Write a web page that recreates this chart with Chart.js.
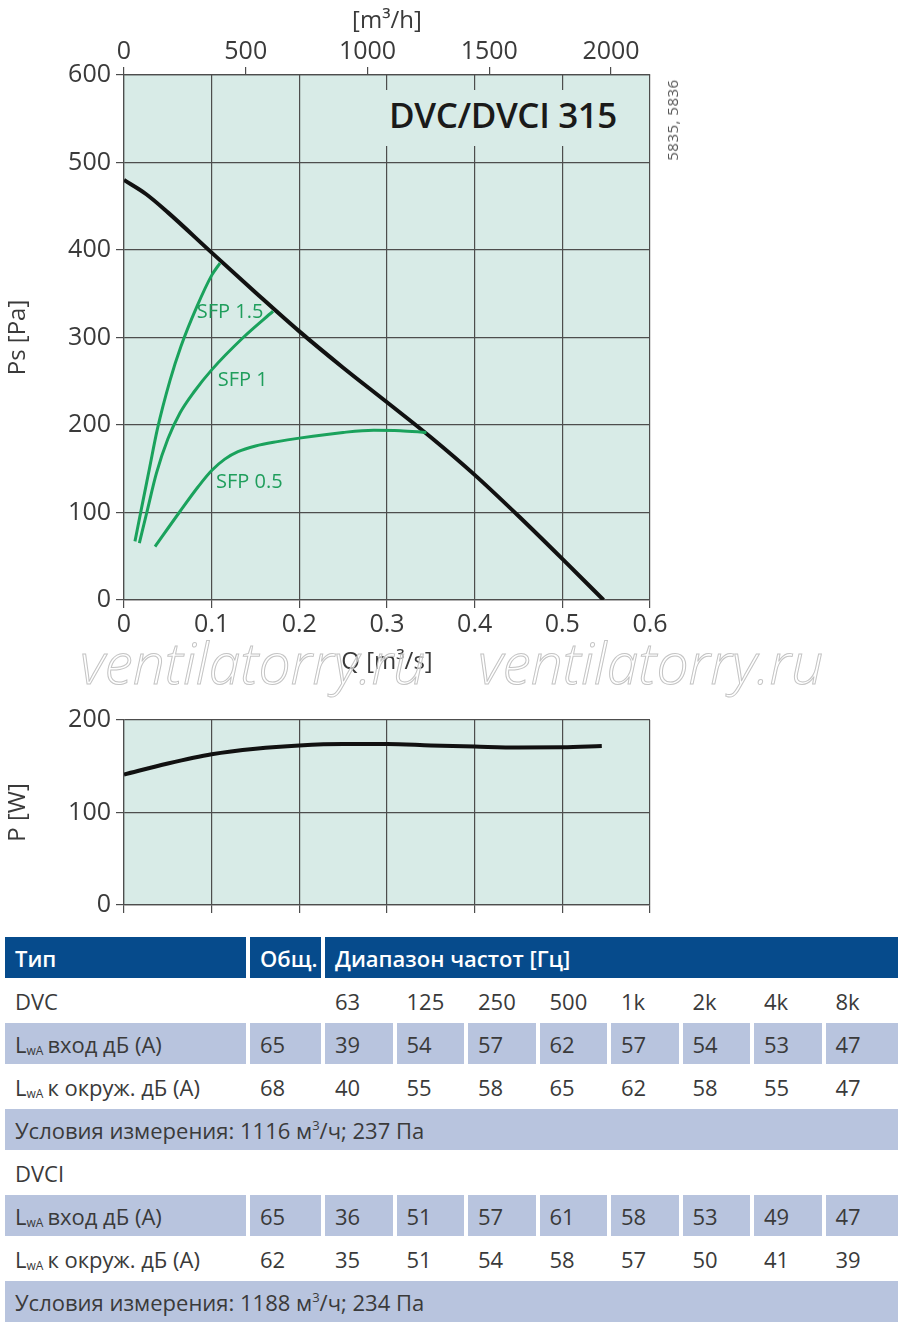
<!DOCTYPE html>
<html>
<head>
<meta charset="utf-8">
<script src="https://cdn.jsdelivr.net/npm/chart.js@4.4.1/dist/chart.umd.min.js"></script>
<style>
  body { margin: 0; background: #fff; font-family: "Open Sans", sans-serif; color: #3a3a3a; }
  #page { position: relative; width: 900px; height: 1325px; overflow: hidden; }
  .box { position: absolute; }
  #title {
    position: absolute; left: 380px; top: 90px; width: 246px; height: 56px;
    background: #d8ebe7; color: #1a1a1a; font-size: 35px; font-weight: 600;
    line-height: 50px; text-align: center; letter-spacing: -0.4px; white-space: nowrap;
  }
  #codes {
    position: absolute; left: 672px; top: 120px; font-size: 15px; color: #555;
    transform: translate(-50%, -50%) rotate(-90deg); white-space: nowrap; letter-spacing: 0.5px;
  }
  .wm {
    position: absolute; top: 623px; font-size: 57px; font-style: italic; font-weight: 300;
    color: rgba(255,255,255,0.6); -webkit-text-stroke: 1px #c4c4c4; white-space: nowrap;
  }
  #table {
    position: absolute; left: 5px; top: 937px; display: grid;
    grid-template-columns: 241px 71px repeat(7, 67.5px) 72px;
    grid-template-rows: 41px repeat(8, 41px);
    column-gap: 4px; row-gap: 2px; font-size: 22px;
  }
  #table > div { display: flex; align-items: center; padding-left: 10px; white-space: nowrap; }
  #table .hd { background: #064b8c; color: #fff; font-weight: 600; font-size: 22px; }
  #table .lv { background: #b8c4de; }
  #table sub { font-size: 12px; vertical-align: -2px; margin-right: 4px; }
  #table sup { font-size: 13px; vertical-align: 9px; }
</style>
</head>
<body>
<div id="page">
  <div class="box" style="left:0;top:0;width:700px;height:690px;"><canvas id="psChart"></canvas></div>
  <div class="box" style="left:0;top:700px;width:700px;height:230px;"><canvas id="powerChart"></canvas></div>
  <div id="title">DVC/DVCI 315</div>
  <div id="codes">5835, 5836</div>
  <div class="wm" style="left:80px;">ventilatorry.ru</div>
  <div class="wm" style="left:478px;">ventilatorry.ru</div>
  <div id="table"></div>
</div>
<script>
// fan curve, Q [m3/s] -> Ps [Pa]
const fanQ = [0, 0.025, 0.05, 0.1, 0.15, 0.2, 0.25, 0.3, 0.35, 0.4, 0.45, 0.5, 0.547];
const fanPs = [480, 464, 443, 397, 351.5, 307, 265.5, 226, 186, 143, 96, 47, 0];

// SFP lines
const sfp15Q = [0.0125, 0.02, 0.029, 0.038, 0.0525, 0.065, 0.083, 0.1, 0.1095];
const sfp15Ps = [67, 105, 150, 195, 251, 290, 335, 371, 385];
const sfp1Q = [0.0175, 0.026, 0.037, 0.05, 0.064, 0.08, 0.1, 0.136, 0.17];
const sfp1Ps = [65, 100, 145, 184, 214, 238, 263, 300, 330];
const sfp05Q = [0.0354, 0.063, 0.085, 0.1, 0.115, 0.13, 0.15, 0.175, 0.2, 0.25, 0.285, 0.315, 0.345];
const sfp05Ps = [61, 100, 130, 148, 161, 169.5, 176, 181, 185, 191.5, 194, 193.5, 191.5];

// power curve, Q [m3/s] -> P [W]
const powerQ = [0, 0.05, 0.1, 0.15, 0.2, 0.25, 0.3, 0.35, 0.4, 0.45, 0.5, 0.545];
const powerW = [141, 153, 163, 169, 172.5, 174, 174, 172.5, 171.3, 170.3, 170.5, 172];

// top axis ticks in m3/h
const flowTicksM3h = [0, 500, 1000, 1500, 2000];

// table
const freqBands = ['63', '125', '250', '500', '1k', '2k', '4k', '8k'];
const dvcInlet = [65, 39, 54, 57, 62, 57, 54, 53, 47];
const dvcSurround = [68, 40, 55, 58, 65, 62, 58, 55, 47];
const dvciInlet = [65, 36, 51, 57, 61, 58, 53, 49, 47];
const dvciSurround = [62, 35, 51, 54, 58, 57, 50, 41, 39];
const dvcCond = 'Условия измерения: 1116 м³/ч; 237 Па';
const dvciCond = 'Условия измерения: 1188 м³/ч; 234 Па';

const pts = (xs, ys) => xs.map((x, i) => ({ x, y: ys[i] }));

const gridColor = '#4d4d4d';
const tickFont = { family: 'Open Sans', size: 25 };
const plotBg = {
  id: 'plotBg',
  beforeDraw(chart) {
    const { ctx, chartArea: a } = chart;
    ctx.save();
    ctx.fillStyle = '#d8ebe7';
    ctx.fillRect(a.left, a.top, a.right - a.left, a.bottom - a.top);
    ctx.restore();
  }
};

const sfpLabels = [
  { text: 'SFP 1.5', q: 0.083, ps: 329 },
  { text: 'SFP 1', q: 0.107, ps: 251 },
  { text: 'SFP 0.5', q: 0.105, ps: 135 }
];
const sfpText = {
  id: 'sfpText',
  afterDatasetsDraw(chart) {
    const { ctx, scales } = chart;
    ctx.save();
    ctx.font = '20px "Open Sans"';
    ctx.fillStyle = '#1f9e5c';
    ctx.textBaseline = 'middle';
    sfpLabels.forEach(l => ctx.fillText(l.text, scales.x.getPixelForValue(l.q), scales.y.getPixelForValue(l.ps)));
    ctx.restore();
  }
};

const green = '#1aa25c';
const line = (data, color, width) => ({
  data, borderColor: color, borderWidth: width, pointRadius: 0,
  cubicInterpolationMode: 'monotone', fill: false
});

Chart.defaults.color = '#3a3a3a';
Chart.defaults.font.family = 'Open Sans';

new Chart('psChart', {
  type: 'line',
  data: {
    datasets: [
      line(pts(sfp15Q, sfp15Ps), green, 3),
      line(pts(sfp1Q, sfp1Ps), green, 3),
      line(pts(sfp05Q, sfp05Ps), green, 3),
      line(pts(fanQ, fanPs), '#111', 4)
    ]
  },
  options: {
    responsive: true, maintainAspectRatio: false, animation: false,
    layout: { padding: { left: 0, right: 50, top: 0, bottom: 0 } },
    plugins: { legend: { display: false }, tooltip: { enabled: false } },
    scales: {
      x: {
        type: 'linear', position: 'bottom', min: 0, max: 0.6,
        ticks: { stepSize: 0.1, font: tickFont, padding: 2, maxRotation: 0 },
        grid: { color: gridColor, lineWidth: 1.2, tickLength: 8 },
        border: { color: gridColor, width: 1.2 },
        title: { display: true, text: 'Q [m³/s]', font: { size: 24 }, padding: { top: 0, bottom: 13 } },
        afterFit(s) { s.height = 90; }
      },
      x2: {
        type: 'linear', position: 'top', min: 0, max: 2160,
        afterBuildTicks(s) { s.ticks = flowTicksM3h.map(v => ({ value: v })); },
        ticks: { font: tickFont, padding: 0, maxRotation: 0, callback: v => String(v) },
        grid: { drawOnChartArea: false, color: gridColor, lineWidth: 1.2, tickLength: 8 },
        border: { color: gridColor, width: 1.2 },
        title: { display: true, text: '[m³/h]', font: { size: 24 }, padding: { top: 7, bottom: 0 } },
        afterFit(s) { s.height = 75; }
      },
      y: {
        min: 0, max: 600,
        ticks: { stepSize: 100, font: tickFont, padding: 5 },
        grid: { color: gridColor, lineWidth: 1.2, tickLength: 8 },
        border: { color: gridColor, width: 1.2 },
        title: { display: true, text: 'Ps [Pa]', font: { size: 24 }, padding: { top: 4, bottom: 0 } },
        afterFit(s) { s.width = 124; }
      }
    }
  },
  plugins: [plotBg, sfpText]
});

new Chart('powerChart', {
  type: 'line',
  data: { datasets: [line(pts(powerQ, powerW), '#111', 4)] },
  options: {
    responsive: true, maintainAspectRatio: false, animation: false,
    layout: { padding: { left: 0, right: 50, top: 20, bottom: 0 } },
    plugins: { legend: { display: false }, tooltip: { enabled: false } },
    scales: {
      x: {
        type: 'linear', min: 0, max: 0.6,
        ticks: { stepSize: 0.1, display: false },
        grid: { color: gridColor, lineWidth: 1.2, tickLength: 8 },
        border: { color: gridColor, width: 1.2 },
        afterFit(s) { s.height = 25; }
      },
      y: {
        min: 0, max: 200,
        ticks: { stepSize: 100, font: tickFont, padding: 5 },
        grid: { color: gridColor, lineWidth: 1.2, tickLength: 8 },
        border: { color: gridColor, width: 1.2 },
        title: { display: true, text: 'P [W]', font: { size: 24 }, padding: { top: 4, bottom: 0 } },
        afterFit(s) { s.width = 124; }
      }
    }
  },
  plugins: [plotBg]
});

// table
const tbl = document.getElementById('table');
const cell = (html, cls, span) => {
  const d = document.createElement('div');
  d.innerHTML = '<span>' + html + '</span>';
  if (cls) d.className = cls;
  if (span) d.style.gridColumn = 'span ' + span;
  tbl.appendChild(d);
};
cell('Тип', 'hd'); cell('Общ.', 'hd'); cell('Диапазон частот [Гц]', 'hd', 8);
const block = (name, inlet, surround, cond, bands) => {
  if (bands) {
    cell(name); cell('');
    bands.forEach(f => cell(f));
  } else {
    cell(name, '', 10);
  }
  cell('L<sub>wA</sub>вход дБ (A)', 'lv');
  inlet.forEach(v => cell(v, 'lv'));
  cell('L<sub>wA</sub>к окруж. дБ (A)');
  surround.forEach(v => cell(v));
  cell(cond.replace('м³', 'м<sup>3</sup>'), 'lv', 10);
};
block('DVC', dvcInlet, dvcSurround, dvcCond, freqBands);
block('DVCI', dvciInlet, dvciSurround, dvciCond);
</script>
</body>
</html>
